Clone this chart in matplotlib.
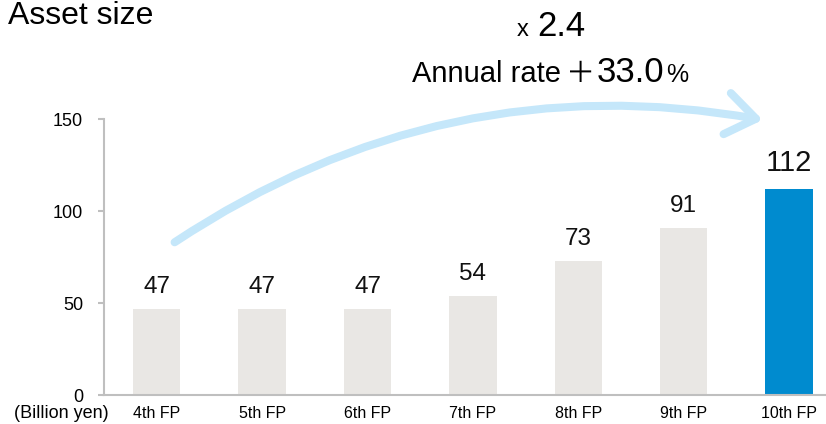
import matplotlib.pyplot as plt
from matplotlib.patches import FancyArrowPatch

plt.rcParams['font.family'] = ['Liberation Sans', 'DejaVu Sans']

# data
periods = ["4th FP", "5th FP", "6th FP", "7th FP", "8th FP", "9th FP", "10th FP"]
asset_size = [47, 47, 47, 54, 73, 91, 112]
bar_colors = ['#e9e7e4'] * 6 + ['#008bcf']

W, H = 826, 424
fig = plt.figure(figsize=(W / 100, H / 100), dpi=100)
ax = fig.add_axes([104 / W, 29 / H, 722 / W, 276 / H])

x = list(range(len(periods)))
ax.bar(x, asset_size, width=0.45, color=bar_colors)

# value labels (latest period is emphasised)
for i, v in enumerate(asset_size):
    last = i == len(asset_size) - 1
    ax.annotate(str(v), (i, v), xytext=(0, 13 if last else 11.5),
                textcoords='offset points', ha='center', va='baseline',
                fontsize=21 if last else 17.5, color='#111111')

ax.set_xlim(-0.5, 6.35)
ax.set_ylim(0, 150)
ax.set_yticks([0, 50, 100, 150])
ax.set_xticks(x)
ax.set_xticklabels(periods, fontsize=11.5)
ax.tick_params(axis='x', length=0, pad=8)
ax.tick_params(axis='y', length=4, width=1.5, color='#bfbfbf', pad=11, labelsize=13)

for s in ['top', 'right']:
    ax.spines[s].set_visible(False)
for s in ['left', 'bottom']:
    ax.spines[s].set_color('#bfbfbf')
    ax.spines[s].set_linewidth(1.5)

# unit label
fig.text(14 / W, 1 - 413 / H, "(Billion yen)", fontsize=13, va='center', ha='left')

# title
fig.text(8 / W, 1 - 24 / H, "Asset size", fontsize=23, va='baseline', ha='left')

# growth arrow
arrow = FancyArrowPatch((0.17, 83), (5.75, 149.5),
                        connectionstyle="arc3,rad=-0.2",
                        arrowstyle="->,head_length=21,head_width=15",
                        color='#c5e7fa', linewidth=5.8, capstyle='round',
                        joinstyle='round', mutation_scale=1, clip_on=False,
                        shrinkA=0, shrinkB=0)
ax.add_patch(arrow)

# growth annotation
fig.text(517 / W, 1 - 36 / H, "x", fontsize=17, va='baseline', ha='left')
fig.text(537 / W, 1 - 36 / H, "2.4", fontsize=25, va='baseline', ha='left')
fig.text(412 / W, 1 - 82 / H, "Annual rate", fontsize=21, va='baseline', ha='left')
fig.text(566 / W, 1 - 82 / H, "＋", fontsize=21, va='baseline', ha='left',
         family=['Noto Sans CJK JP', 'DejaVu Sans'])
fig.text(597 / W, 1 - 82 / H, "33.0", fontsize=25, va='baseline', ha='left')
fig.text(666 / W, 1 - 82 / H, "%", fontsize=18, va='baseline', ha='left')

fig.savefig("out.png", dpi=100)
